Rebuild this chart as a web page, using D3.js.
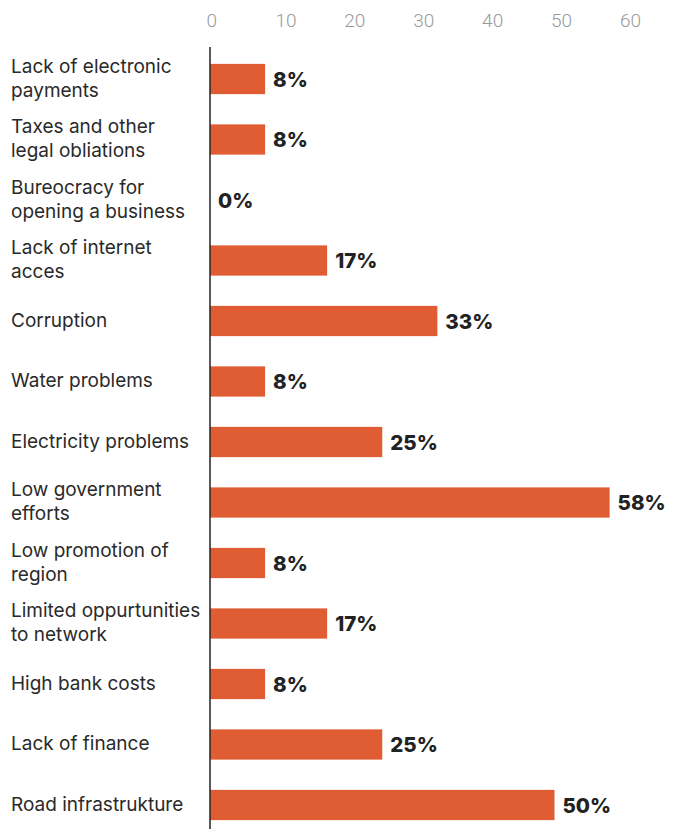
<!DOCTYPE html>
<html>
<head>
<meta charset="utf-8">
<script src="https://cdn.jsdelivr.net/npm/d3@7"></script>
<style>
  html, body { margin: 0; padding: 0; background: #ffffff; }
  svg { display: block; font-family: Inter, Roboto, "Noto Sans", sans-serif; }
</style>
</head>
<body>
<svg id="chart" width="678" height="829"></svg>
<script>
// Obstacles named by respondents (share of answers, %)
const categories = [
  ["Lack of electronic", "payments"],
  ["Taxes and other", "legal obliations"],
  ["Bureocracy for", "opening a business"],
  ["Lack of internet", "acces"],
  ["Corruption"],
  ["Water problems"],
  ["Electricity problems"],
  ["Low government", "efforts"],
  ["Low promotion of", "region"],
  ["Limited oppurtunities", "to network"],
  ["High bank costs"],
  ["Lack of finance"],
  ["Road infrastrukture"]
];
const values = [8, 8, 0, 17, 33, 8, 25, 58, 8, 17, 8, 25, 50];
const tickValues = [0, 10, 20, 30, 40, 50, 60];

const svg = d3.select("#chart");
const keys = categories.map(c => c.join(" "));

const x = d3.scaleLinear().domain([0, 60]).range([210, 623.4]);
const y = d3.scaleBand().domain(keys).range([48.75, 835.25])
  .paddingInner(0.5).paddingOuter(0.25);

// Top axis: tick labels only
const axis = d3.axisTop(x).tickValues(tickValues).tickSize(0).tickPadding(0);
const gAxis = svg.append("g").attr("transform", "translate(0,22)").call(axis);
gAxis.select(".domain").remove();
gAxis.selectAll("text")
  .attr("text-anchor", "start")
  .attr("dx", -4)
  .attr("dy", 0)
  .attr("dominant-baseline", "middle")
  .attr("fill", "#9a9a9a")
  .attr("font-size", 19)
  .attr("font-weight", 300)
  .attr("font-family", "Roboto, sans-serif");

// Bars
svg.append("g").selectAll("rect")
  .data(values)
  .join("rect")
  .attr("x", x(0))
  .attr("y", (d, i) => y(keys[i]))
  .attr("width", d => x(d) - x(0))
  .attr("height", y.bandwidth())
  .attr("fill", "#e05d33");

// Value labels
svg.append("g").selectAll("text")
  .data(values)
  .join("text")
  .attr("x", d => x(d) + 8)
  .attr("y", (d, i) => y(keys[i]) + y.bandwidth() / 2 + 2)
  .attr("dominant-baseline", "middle")
  .attr("fill", "#222222")
  .attr("font-size", 20.5)
  .attr("font-weight", 800)
  .text(d => d + "%");

// Category labels
const labels = svg.append("g").selectAll("text")
  .data(categories)
  .join("text")
  .attr("x", 11)
  .attr("fill", "#2a2a2a")
  .attr("font-size", 19)
  .attr("dominant-baseline", "middle");
labels.each(function(lines, i) {
  const cy = y(keys[i]) + y.bandwidth() / 2;
  const n = lines.length;
  d3.select(this).selectAll("tspan")
    .data(lines)
    .join("tspan")
    .attr("x", 11)
    .attr("y", (l, j) => cy + 0.5 + (j - (n - 1) / 2) * 24)
    .text(l => l);
});

// Zero line
svg.append("line")
  .attr("x1", x(0)).attr("x2", x(0))
  .attr("y1", 47).attr("y2", 829)
  .attr("stroke", "#222222")
  .attr("stroke-width", 1.5);
</script>
</body>
</html>
